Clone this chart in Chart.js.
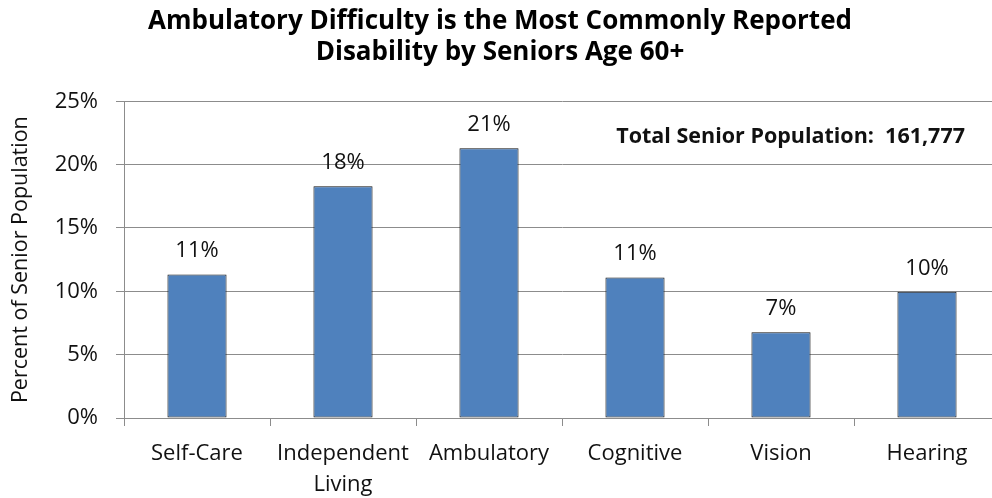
<!DOCTYPE html>
<html>
<head>
<meta charset="utf-8">
<script src="https://cdn.jsdelivr.net/npm/chart.js@4"></script>
<style>
  html, body { margin: 0; padding: 0; background: #fff; overflow: hidden; }
  #wrap { width: 1000px; height: 498px; position: relative; }
</style>
</head>
<body>
<div id="wrap"><canvas id="chart"></canvas></div>
<script>
const categories = ["Self-Care", ["Independent", "Living"], "Ambulatory", "Cognitive", "Vision", "Hearing"];
const percentValues = [11.33, 18.3, 21.3, 11.1, 6.77, 9.97];
const yTicks = [0, 5, 10, 15, 20, 25];
const titleLines = ["Ambulatory Difficulty is the Most Commonly Reported", "Disability by Seniors Age 60+"];
const yAxisTitle = "Percent of Senior Population";
const totalNote = "Total Senior Population:  161,777";

const FONT = "'Open Sans', 'Noto Sans', sans-serif";
const gridColor = "#8c8c8c";

// percent labels on top of each bar
const barLabels = {
  id: "barLabels",
  afterDatasetsDraw(chart) {
    const ctx = chart.ctx;
    const meta = chart.getDatasetMeta(0);
    ctx.save();
    ctx.font = "22px " + FONT;
    ctx.fillStyle = "#111";
    ctx.textAlign = "center";
    ctx.textBaseline = "alphabetic";
    meta.data.forEach((bar, i) => {
      ctx.fillText(Math.round(percentValues[i]) + "%", bar.x, bar.y - 17);
    });
    ctx.restore();
  }
};

// total population note in the upper right of the plot
const totalLabel = {
  id: "totalLabel",
  afterDraw(chart) {
    const { ctx, chartArea } = chart;
    ctx.save();
    ctx.font = "bold 21.5px " + FONT;
    ctx.fillStyle = "#111";
    ctx.textAlign = "right";
    ctx.textBaseline = "alphabetic";
    ctx.fillText(totalNote, chartArea.right - 35, chartArea.top + 42);
    ctx.restore();
  }
};

new Chart(document.getElementById("chart"), {
  type: "bar",
  data: {
    labels: categories,
    datasets: [{
      data: percentValues,
      backgroundColor: "#4f81bd",
      borderColor: "#111",
      borderWidth: 1,
      borderSkipped: false,
      categoryPercentage: 1,
      barPercentage: 0.405
    }]
  },
  options: {
    responsive: true,
    maintainAspectRatio: false,
    animation: false,
    layout: { padding: { left: 0, right: 0, top: 0, bottom: 0 } },
    plugins: {
      legend: { display: false },
      tooltip: { enabled: false },
      title: {
        display: true,
        text: titleLines,
        color: "#000",
        font: { family: FONT, size: 26, weight: "bold", lineHeight: 1.16 },
        padding: { top: 7, bottom: 34 }
      }
    },
    scales: {
      x: {
        grid: {
          display: true,
          drawOnChartArea: false,
          drawTicks: true,
          tickLength: 8,
          color: gridColor,
          offset: true
        },
        border: { color: gridColor },
        ticks: {
          color: "#111",
          font: { family: FONT, size: 22, lineHeight: 1.41 },
          padding: 12,
          maxRotation: 0,
          autoSkip: false
        },
        afterFit(scale) { scale.height = 80; }
      },
      y: {
        min: yTicks[0],
        max: yTicks[yTicks.length - 1],
        afterBuildTicks(scale) { scale.ticks = yTicks.map(v => ({ value: v })); },
        grid: { color: gridColor, tickLength: 8 },
        border: { color: gridColor },
        ticks: {
          color: "#111",
          font: { family: FONT, size: 22 },
          padding: 18,
          callback: v => v + "%"
        },
        title: {
          display: true,
          text: yAxisTitle,
          color: "#111",
          font: { family: FONT, size: 21.5, lineHeight: 1.1 },
          padding: { top: 9, bottom: 0 }
        },
        afterFit(scale) { scale.width = 124; }
      }
    }
  },
  plugins: [barLabels, totalLabel]
});
</script>
</body>
</html>
